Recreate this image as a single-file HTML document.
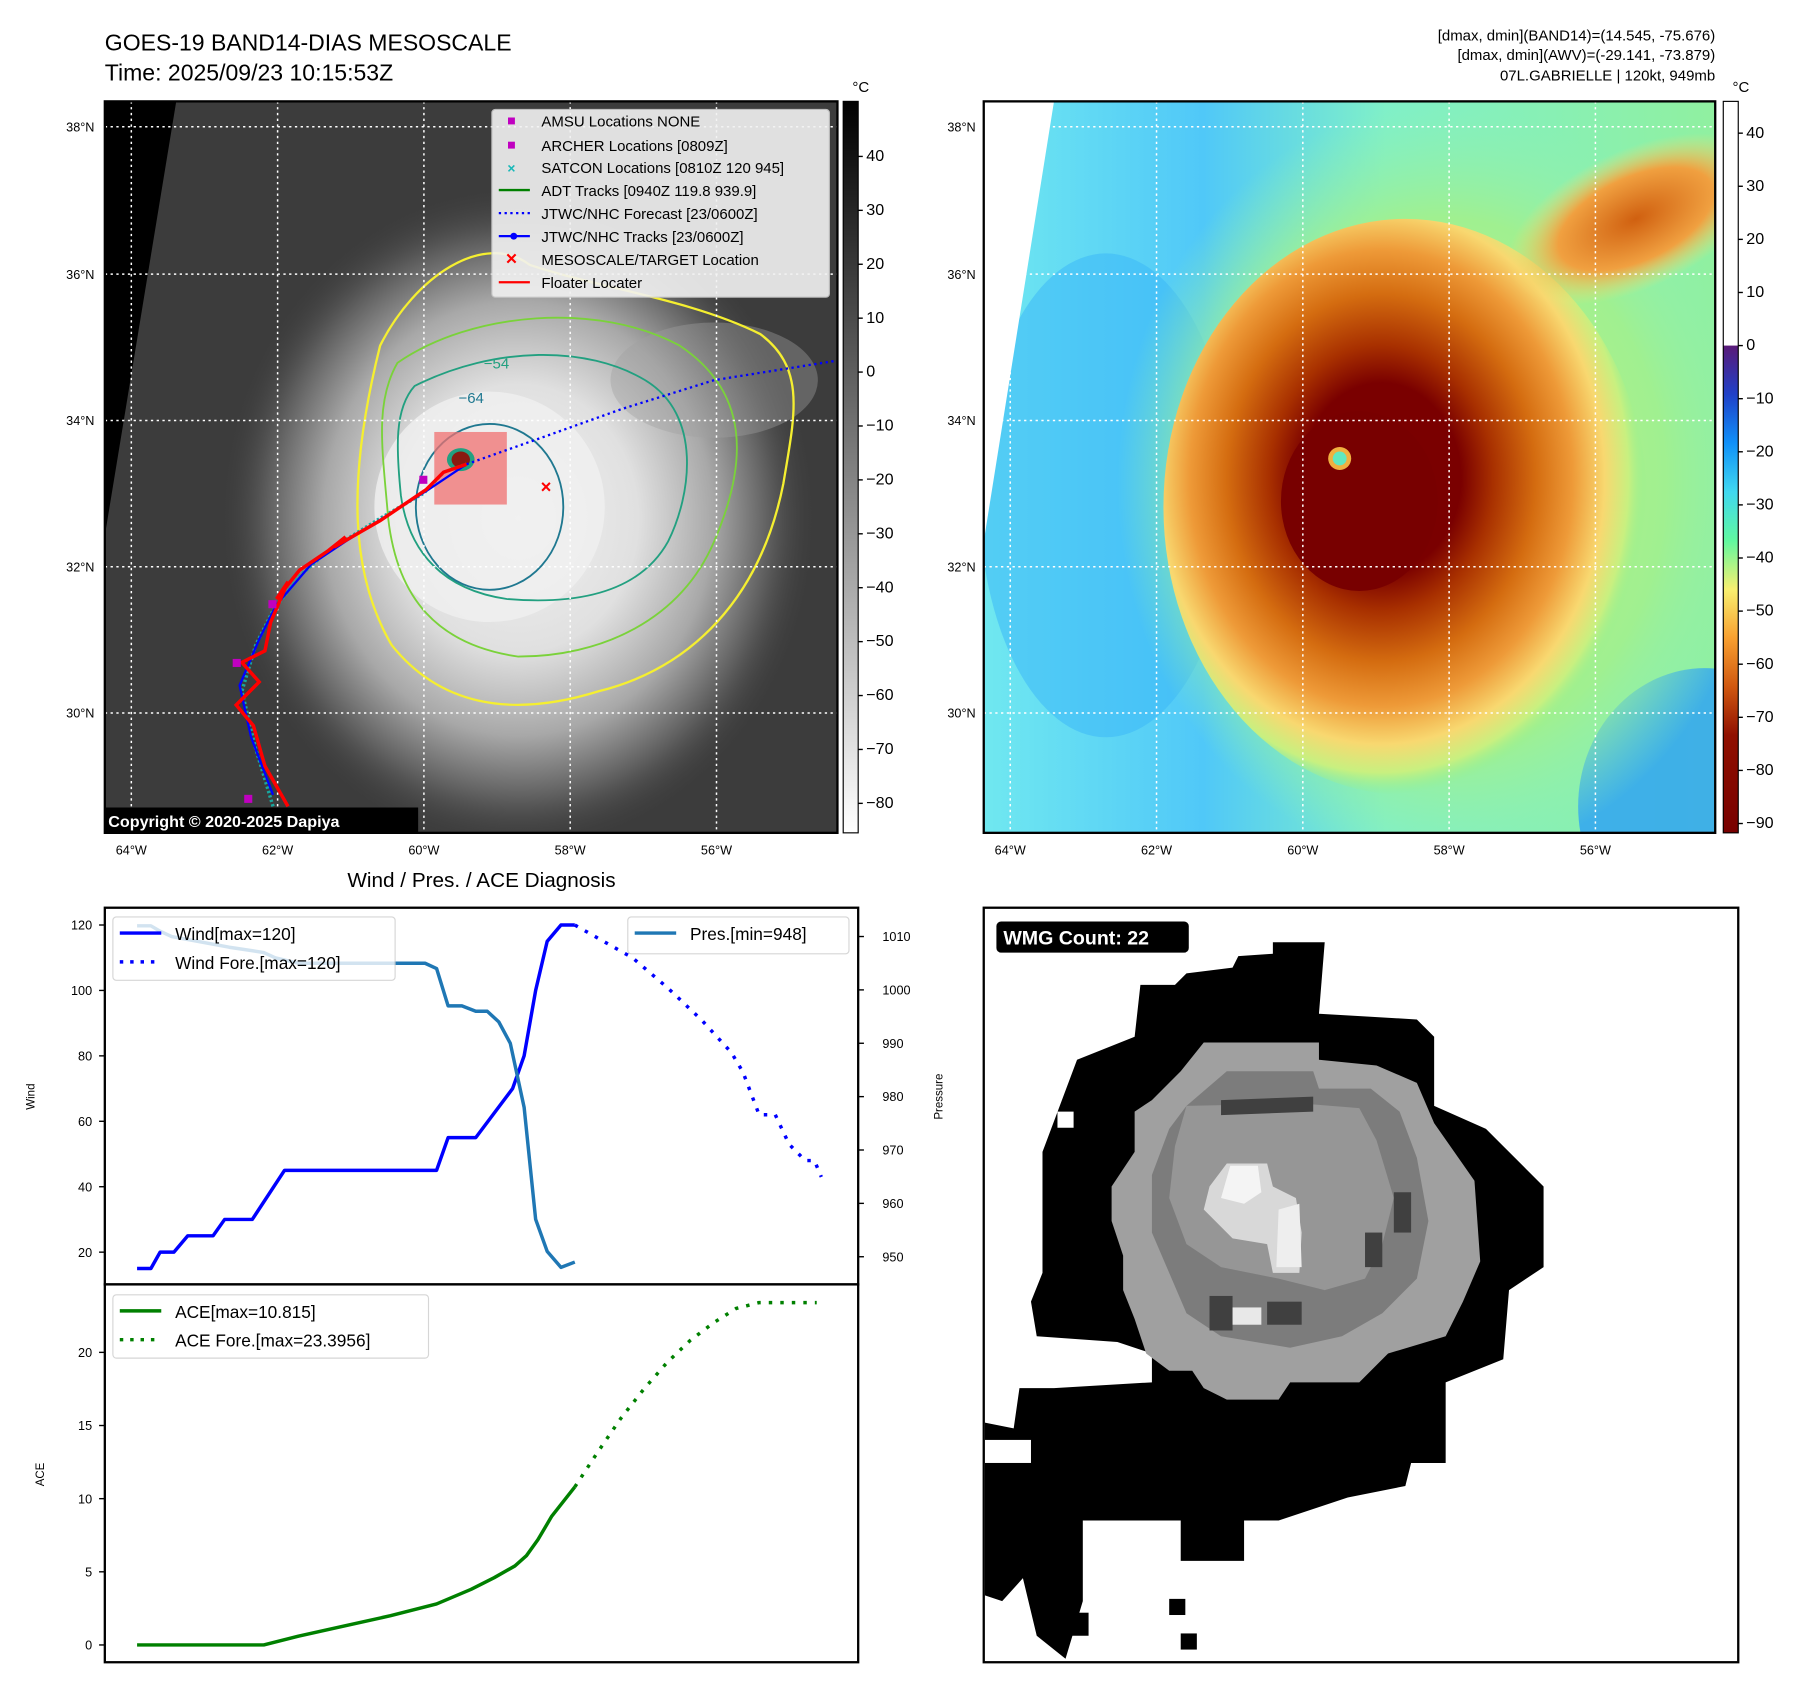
<!DOCTYPE html>
<html><head><meta charset="utf-8">
<style>
html,body{margin:0;padding:0;background:#fff;}
svg{display:block;font-family:"Liberation Sans","DejaVu Sans",sans-serif;}
</style></head>
<body>
<svg id="root" width="1797" height="1690" viewBox="0 0 1560 1467.1" preserveAspectRatio="none" xmlns="http://www.w3.org/2000/svg">
<defs>
  <radialGradient id="cloud" cx="0.5" cy="0.5" r="0.5">
    <stop offset="0" stop-color="#f2f2f2"/>
    <stop offset="0.4" stop-color="#e0e0e0"/>
    <stop offset="0.65" stop-color="#a8a8a8"/>
    <stop offset="0.85" stop-color="#5a5a5a"/>
    <stop offset="1" stop-color="#3c3c3c" stop-opacity="0"/>
  </radialGradient>
  <radialGradient id="core" cx="0.45" cy="0.45" r="0.55">
    <stop offset="0" stop-color="#7a0000"/>
    <stop offset="0.3" stop-color="#7a0000"/>
    <stop offset="0.42" stop-color="#a83000"/>
    <stop offset="0.58" stop-color="#d46c10"/>
    <stop offset="0.72" stop-color="#ee9a38"/>
    <stop offset="0.84" stop-color="#f8d870"/>
    <stop offset="0.93" stop-color="#c8f080"/>
    <stop offset="1" stop-color="#90f090" stop-opacity="0"/>
  </radialGradient>
  <radialGradient id="ne" cx="0.5" cy="0.5" r="0.5">
    <stop offset="0" stop-color="#d06010"/>
    <stop offset="0.6" stop-color="#f0a040"/>
    <stop offset="1" stop-color="#f8e070" stop-opacity="0"/>
  </radialGradient>
  <radialGradient id="halo" cx="0.5" cy="0.5" r="0.5">
    <stop offset="0" stop-color="#c8f080"/>
    <stop offset="0.7" stop-color="#a0f090"/>
    <stop offset="1" stop-color="#90f0b0" stop-opacity="0"/>
  </radialGradient>
  <linearGradient id="cbgray" x1="0" y1="0" x2="0" y2="1">
    <stop offset="0" stop-color="#000"/><stop offset="1" stop-color="#fff"/>
  </linearGradient>
  <linearGradient id="cbcol" x1="0" y1="0" x2="0" y2="1">
    <stop offset="0" stop-color="#5a1a78"/>
    <stop offset="0.1" stop-color="#2040c8"/>
    <stop offset="0.2" stop-color="#1090f8"/>
    <stop offset="0.3" stop-color="#40d8f0"/>
    <stop offset="0.4" stop-color="#60f8a0"/>
    <stop offset="0.5" stop-color="#f8f070"/>
    <stop offset="0.6" stop-color="#f8a030"/>
    <stop offset="0.7" stop-color="#d05810"/>
    <stop offset="0.8" stop-color="#901000"/>
    <stop offset="1" stop-color="#780000"/>
  </linearGradient>
  <linearGradient id="ocean" x1="0" y1="0" x2="1" y2="0">
    <stop offset="0" stop-color="#70e8f0"/>
    <stop offset="0.3" stop-color="#50c8f8"/>
    <stop offset="0.55" stop-color="#80f0c8"/>
    <stop offset="1" stop-color="#90f0a0"/>
  </linearGradient>
  <clipPath id="clipL"><rect x="91" y="88" width="636" height="635"/></clipPath>
  <clipPath id="clipR"><rect x="854" y="88" width="635" height="635"/></clipPath>
  <clipPath id="clipW"><rect x="854" y="788" width="655" height="655"/></clipPath>
</defs>

<text x="91" y="44" font-size="20">GOES-19 BAND14-DIAS MESOSCALE</text>
<text x="91" y="70" font-size="20">Time: 2025/09/23 10:15:53Z</text>
<g font-size="13" text-anchor="end">
<text x="1489" y="35">[dmax, dmin](BAND14)=(14.545, -75.676)</text>
<text x="1489" y="52">[dmax, dmin](AWV)=(-29.141, -73.879)</text>
<text x="1489" y="70">07L.GABRIELLE | 120kt, 949mb</text>
</g>

<!-- LEFT MAP -->
<g clip-path="url(#clipL)">
  <rect x="91" y="88" width="636" height="635" fill="#3c3c3c"/>
  <ellipse cx="450" cy="450" rx="260" ry="290" fill="url(#cloud)"/>
  <ellipse cx="425" cy="440" rx="100" ry="100" fill="#f0f0f0" opacity="0.8"/>
  <ellipse cx="620" cy="330" rx="90" ry="50" fill="#a0a0a0" opacity="0.4"/>
  <polygon points="91,88 153,88 91,465" fill="#000"/>
  <path d="M330,300 C360,240 420,200 460,230 C520,250 600,260 660,290 C700,320 690,360 680,420 C660,520 600,580 520,600 C440,625 380,610 340,560 C305,500 300,420 330,300Z" fill="none" stroke="#f5ef30" stroke-width="2"/>
  <path d="M345,315 C410,270 520,262 590,300 C650,340 650,400 620,470 C590,540 520,570 450,570 C380,560 345,520 337,450 C332,390 325,350 345,315Z" fill="none" stroke="#7ad23a" stroke-width="1.6"/>
  <path d="M360,335 C430,300 510,300 560,330 C610,360 600,430 580,470 C555,515 500,525 440,520 C385,512 355,480 348,430 C344,390 342,355 360,335Z" fill="none" stroke="#22a080" stroke-width="1.6"/>
  <ellipse cx="425" cy="440" rx="64" ry="72" fill="none" stroke="#1f7890" stroke-width="1.6"/>
  <text x="398" y="350" font-size="13" fill="#1f7890">−64</text>
  <text x="420" y="320" font-size="13" fill="#22a080">−54</text>
  <g stroke="#fff" stroke-dasharray="2,3" stroke-width="1.3">
    <line x1="114" y1="88" x2="114" y2="723"/><line x1="241" y1="88" x2="241" y2="723"/><line x1="368" y1="88" x2="368" y2="723"/><line x1="495" y1="88" x2="495" y2="723"/><line x1="622" y1="88" x2="622" y2="723"/>
    <line x1="91" y1="110" x2="727" y2="110"/><line x1="91" y1="238" x2="727" y2="238"/><line x1="91" y1="365" x2="727" y2="365"/><line x1="91" y1="492" x2="727" y2="492"/><line x1="91" y1="619" x2="727" y2="619"/>
  </g>
  <rect x="377" y="375" width="63" height="63" fill="#f07070" opacity="0.75"/>
  <ellipse cx="400" cy="399" rx="12" ry="10" fill="#22a080"/>
  <ellipse cx="400" cy="399" rx="8" ry="7" fill="#8a1a10"/>
  <polyline points="405,403 470,380 540,355 620,330 727,313" fill="none" stroke="#0000ff" stroke-width="2" stroke-dasharray="2,3"/>
  <polyline points="237,700 222,650 210,600 222,560 237,530 260,500 285,478 330,450 368,428 385,410 405,403" fill="none" stroke="#18a8a0" stroke-width="3" stroke-dasharray="2,2"/>
  <polyline points="237,690 218,640 208,595 225,555 240,525 270,490 300,470 340,445 372,425 405,403" fill="none" stroke="#0000ff" stroke-width="2"/>
  <polyline points="250,700 230,665 220,630 205,612 225,592 210,575 230,565 235,540 250,505 240,520 260,495 285,478 300,466 290,475 330,452 370,425 385,410 405,403" fill="none" stroke="#ff0000" stroke-width="3"/>
  <rect x="233" y="521" width="7" height="7" fill="#c000c0"/><rect x="202" y="572" width="7" height="7" fill="#c000c0"/><rect x="212" y="690" width="7" height="7" fill="#c000c0"/><rect x="364" y="413" width="7" height="7" fill="#c000c0"/>
  <text x="474" y="428" font-size="16" fill="#f00" text-anchor="middle" font-weight="bold">×</text>
  <rect x="91" y="701" width="272" height="22" fill="#000"/>
  <text x="94" y="718" font-size="14" fill="#fff" font-weight="bold">Copyright © 2020-2025 Dapiya</text>
</g>
<rect x="91" y="88" width="636" height="635" fill="none" stroke="#000" stroke-width="2"/>
<g>
  <rect x="427" y="95" width="293" height="163" rx="3" fill="#f2f2f2" opacity="0.9" stroke="#ccc"/>
  <g font-size="13">
    <rect x="441" y="102" width="6" height="6" fill="#c000c0"/><text x="470" y="110">AMSU Locations NONE</text>
    <rect x="441" y="123" width="6" height="6" fill="#c000c0"/><text x="470" y="131">ARCHER Locations [0809Z]</text>
    <text x="444" y="150" fill="#18b8b8" font-size="12" text-anchor="middle" font-weight="bold">×</text><text x="470" y="150">SATCON Locations [0810Z 120 945]</text>
    <line x1="433" y1="165" x2="460" y2="165" stroke="#008000" stroke-width="2"/><text x="470" y="170">ADT Tracks [0940Z 119.8 939.9]</text>
    <line x1="433" y1="185" x2="460" y2="185" stroke="#0000ff" stroke-width="2" stroke-dasharray="2,3"/><text x="470" y="190">JTWC/NHC Forecast [23/0600Z]</text>
    <line x1="433" y1="205" x2="460" y2="205" stroke="#0000ff" stroke-width="2"/><circle cx="446" cy="205" r="3" fill="#0000ff"/><text x="470" y="210">JTWC/NHC Tracks [23/0600Z]</text>
    <text x="444" y="230" fill="#f00" font-size="17" text-anchor="middle" font-weight="bold">×</text><text x="470" y="230">MESOSCALE/TARGET Location</text>
    <line x1="433" y1="245" x2="460" y2="245" stroke="#ff0000" stroke-width="2"/><text x="470" y="250">Floater Locater</text>
  </g>
</g>
<g font-size="11">
  <g text-anchor="middle"><text x="114" y="742">64°W</text><text x="241" y="742">62°W</text><text x="368" y="742">60°W</text><text x="495" y="742">58°W</text><text x="622" y="742">56°W</text></g>
  <g text-anchor="end"><text x="82" y="114">38°N</text><text x="82" y="242">36°N</text><text x="82" y="369">34°N</text><text x="82" y="496">32°N</text><text x="82" y="623">30°N</text></g>
</g>
<g>
  <rect x="732" y="88" width="13" height="635" fill="url(#cbgray)" stroke="#000"/>
  <text x="740" y="80" font-size="13">°C</text>
  <g font-size="14" id="cbL"></g>
</g>

<!-- RIGHT MAP -->
<g clip-path="url(#clipR)">
  <rect x="854" y="88" width="635" height="635" fill="url(#ocean)"/>
  <ellipse cx="960" cy="430" rx="110" ry="210" fill="#3cb8f8" opacity="0.55"/>
  <ellipse cx="1480" cy="700" rx="110" ry="120" fill="#2aa0f8" opacity="0.8"/>
  <ellipse cx="1250" cy="420" rx="280" ry="330" fill="url(#halo)"/>
  <ellipse cx="1220" cy="440" rx="210" ry="250" fill="url(#core)"/>
  <ellipse cx="1420" cy="190" rx="120" ry="60" fill="url(#ne)" transform="rotate(-25 1420 190)"/>
  <ellipse cx="1180" cy="435" rx="68" ry="78" fill="#780000"/>
  <circle cx="1163" cy="398" r="10" fill="#f0b040"/>
  <circle cx="1163" cy="398" r="6" fill="#60e8c0"/>
  <polygon points="854,88 915,88 854,470" fill="#fff"/>
  <g stroke="#fff" stroke-dasharray="2,3" stroke-width="1.3">
    <line x1="877" y1="88" x2="877" y2="723"/><line x1="1004" y1="88" x2="1004" y2="723"/><line x1="1131" y1="88" x2="1131" y2="723"/><line x1="1258" y1="88" x2="1258" y2="723"/><line x1="1385" y1="88" x2="1385" y2="723"/>
    <line x1="854" y1="110" x2="1489" y2="110"/><line x1="854" y1="238" x2="1489" y2="238"/><line x1="854" y1="365" x2="1489" y2="365"/><line x1="854" y1="492" x2="1489" y2="492"/><line x1="854" y1="619" x2="1489" y2="619"/>
  </g>
</g>
<rect x="854" y="88" width="635" height="635" fill="none" stroke="#000" stroke-width="2"/>
<g font-size="11">
  <g text-anchor="middle"><text x="877" y="742">64°W</text><text x="1004" y="742">62°W</text><text x="1131" y="742">60°W</text><text x="1258" y="742">58°W</text><text x="1385" y="742">56°W</text></g>
  <g text-anchor="end"><text x="847" y="114">38°N</text><text x="847" y="242">36°N</text><text x="847" y="369">34°N</text><text x="847" y="496">32°N</text><text x="847" y="623">30°N</text></g>
</g>
<g>
  <rect x="1496" y="88" width="13" height="212" fill="#fff"/>
  <rect x="1496" y="300" width="13" height="423" fill="url(#cbcol)"/>
  <rect x="1496" y="88" width="13" height="635" fill="none" stroke="#000"/>
  <text x="1504" y="80" font-size="13">°C</text>
  <g font-size="14" id="cbR"></g>
</g>

<!-- BOTTOM LEFT CHART -->
<text x="418" y="770" font-size="18" text-anchor="middle">Wind / Pres. / ACE Diagnosis</text>
<g id="chart">
  <rect x="91" y="788" width="654" height="327" fill="#fff" stroke="#000" stroke-width="2"/>
  <rect x="91" y="1115" width="654" height="328" fill="#fff" stroke="#000" stroke-width="2"/>
  <text transform="translate(30 952) rotate(-90)" font-size="10" text-anchor="middle">Wind</text>
  <text transform="translate(818 952) rotate(-90)" font-size="10" text-anchor="middle">Pressure</text>
  <text transform="translate(38 1280) rotate(-90)" font-size="10" text-anchor="middle">ACE</text>
  <g id="ticks" font-size="11"></g>
  <g id="series"></g>
  <g>
    <rect x="98" y="796" width="245" height="55" rx="3" fill="#fff" opacity="0.8" stroke="#ccc"/>
    <line x1="104" y1="810" x2="140" y2="810" stroke="#0000ff" stroke-width="3"/><text x="152" y="816" font-size="15">Wind[max=120]</text>
    <line x1="104" y1="835" x2="140" y2="835" stroke="#0000ff" stroke-width="3" stroke-dasharray="3,6"/><text x="152" y="841" font-size="15">Wind Fore.[max=120]</text>
  </g>
  <g>
    <rect x="545" y="796" width="192" height="32" rx="3" fill="#fff" opacity="0.8" stroke="#ccc"/>
    <line x1="551" y1="810" x2="587" y2="810" stroke="#1f77b4" stroke-width="3"/><text x="599" y="816" font-size="15">Pres.[min=948]</text>
  </g>
  <g>
    <rect x="98" y="1124" width="274" height="55" rx="3" fill="#fff" opacity="0.8" stroke="#ccc"/>
    <line x1="104" y1="1138" x2="140" y2="1138" stroke="#008000" stroke-width="3"/><text x="152" y="1144" font-size="15">ACE[max=10.815]</text>
    <line x1="104" y1="1163" x2="140" y2="1163" stroke="#008000" stroke-width="3" stroke-dasharray="3,6"/><text x="152" y="1169" font-size="15">ACE Fore.[max=23.3956]</text>
  </g>
</g>

<!-- WMG PANEL -->
<g clip-path="url(#clipW)">
  <rect x="854" y="788" width="655" height="655" fill="#fff"/>
  <polygon points="1105,818 1150,818 1145,880 1230,885 1245,900 1245,960 1290,980 1325,1015 1340,1030 1340,1100 1310,1120 1305,1180 1255,1200 1255,1270 1225,1270 1220,1290 1170,1300 1110,1320 1080,1320 1080,1355 1025,1355 1025,1320 940,1320 940,1390 925,1440 900,1420 888,1370 870,1390 855,1385 855,1235 880,1240 885,1205 915,1205 1000,1200 1000,1175 970,1165 900,1160 895,1130 905,1105 905,1000 935,920 985,900 990,855 1020,855 1030,845 1070,840 1075,830 1105,828" fill="#000"/>
  <rect x="918" y="965" width="14" height="14" fill="#fff"/><rect x="855" y="1250" width="40" height="20" fill="#fff"/>
  <rect x="905" y="1400" width="40" height="20" fill="#000"/><rect x="1015" y="1388" width="14" height="14" fill="#000"/><rect x="1025" y="1418" width="14" height="14" fill="#000"/>
  <polygon points="1045,905 1145,905 1145,920 1195,925 1230,940 1245,975 1280,1025 1285,1095 1270,1130 1255,1160 1205,1175 1180,1200 1120,1200 1110,1215 1065,1215 1045,1205 1035,1190 1015,1190 995,1175 985,1145 975,1120 975,1090 965,1060 965,1030 985,1000 985,965 1000,955 1025,930" fill="#a0a0a0"/>
  <polygon points="1065,930 1140,930 1145,945 1190,945 1215,965 1230,1005 1240,1060 1230,1110 1200,1140 1165,1160 1120,1170 1060,1160 1030,1140 1015,1105 1000,1070 1000,1020 1015,980 1030,960" fill="#7c7c7c"/>
  <polygon points="1030,960 1130,958 1180,962 1195,990 1210,1040 1200,1080 1185,1110 1150,1120 1110,1110 1060,1100 1030,1080 1015,1040 1020,995" fill="#969696"/>
  <polygon points="1060,955 1140,952 1140,965 1060,968" fill="#404040"/>
  <polygon points="1065,1010 1100,1010 1105,1030 1125,1040 1130,1070 1128,1105 1105,1105 1100,1080 1070,1075 1045,1050 1050,1030" fill="#d8d8d8"/>
  <polygon points="1068,1012 1092,1012 1095,1035 1080,1045 1060,1040" fill="#f4f4f4"/>
  <polygon points="1110,1050 1128,1045 1130,1100 1108,1100" fill="#eeeeee"/>
  <rect x="1050" y="1125" width="20" height="30" fill="#404040"/><rect x="1070" y="1135" width="25" height="15" fill="#e8e8e8"/><rect x="1100" y="1130" width="30" height="20" fill="#404040"/>
  <rect x="1210" y="1035" width="15" height="35" fill="#404040"/><rect x="1185" y="1070" width="15" height="30" fill="#404040"/>
  <rect x="865" y="800" width="167" height="27" rx="4" fill="#000"/>
  <text x="871" y="820" font-size="17" font-weight="bold" fill="#fff">WMG Count: 22</text>
</g>
<rect x="854" y="788" width="655" height="655" fill="none" stroke="#000" stroke-width="2"/>
</svg>

<script>
const windHours = [0,6,10,16,22,33,38,50,64,130,135,147,163,168,173,178,184,190];
const windValues = [15,15,20,20,25,25,30,30,45,45,55,55,70,80,100,115,120,120];
const windForeHours = [190,200,215,230,245,258,263,270,277,283,290,294,297];
const windForeValues = [120,116,110,101,91,81,75,62,62,53,48,48,43];
const presHours = [0,6,10,15,40,55,60,70,75,125,130,135,141,147,152,157,162,168,173,178,184,190];
const presValues = [1012,1012,1011,1010,1008,1007,1006,1005,1005,1005,1004,997,997,996,996,994,990,978,957,951,948,949];
const aceHours = [0,55,70,90,110,130,145,155,164,169,174,180,190];
const aceValues = [0,0,0.6,1.3,2.0,2.8,3.8,4.6,5.4,6.1,7.2,8.8,10.8];
const aceForeHours = [190,200,210,220,230,240,250,260,270,280,295];
const aceForeValues = [10.8,13.2,15.5,17.5,19.3,20.8,22,23,23.4,23.4,23.4];
const windTicks = [20,40,60,80,100,120];
const presTicks = [950,960,970,980,990,1000,1010];
const aceTicks = [0,5,10,15,20];
const cbLeftTicks = [40,30,20,10,0,-10,-20,-30,-40,-50,-60,-70,-80];
const cbRightTicks = [40,30,20,10,0,-10,-20,-30,-40,-50,-60,-70,-80,-90];

const NS = "http://www.w3.org/2000/svg";
const xS = h => 119 + h * 2;
const yWind = v => 1087 - (v - 20) * 2.84;
const yPres = p => 813 + (1010 - p) * 4.633;
const yAce = a => 1428 - a * 12.7;
const yCbL = t => 323 - t * 4.68;
const yCbR = t => 300 - t * 4.61;

function mk(tag, attrs, parent) {
  const e = document.createElementNS(NS, tag);
  for (const k in attrs) e.setAttribute(k, attrs[k]);
  parent.appendChild(e);
  return e;
}
const series = document.getElementById('series');
const ticks = document.getElementById('ticks');

function line(xs, ys, yf, color, dash, name) {
  const pts = xs.map((h, i) => xS(h).toFixed(1) + ',' + yf(ys[i]).toFixed(1)).join(' ');
  const el = mk('polyline', {points: pts, fill: 'none', stroke: color, 'stroke-width': 3, 'stroke-linejoin': 'round'}, series);
  if (dash) el.setAttribute('stroke-dasharray', dash);
  
  
}
line(windHours, windValues, yWind, '#0000ff', null, 'wind-line');
line(windForeHours, windForeValues, yWind, '#0000ff', '3,7', 'wind-forecast-line');
line(presHours, presValues, yPres, '#1f77b4', null, 'pressure-line');
line(aceHours, aceValues, yAce, '#008000', null, 'ace-line');
line(aceForeHours, aceForeValues, yAce, '#008000', '3,7', 'ace-forecast-line');

function tick(x1, x2, y, label, anchor, tx, parent, fs) {
  mk('line', {x1: x1, x2: x2, y1: y, y2: y, stroke: '#000', 'stroke-width': 1.2}, parent);
  const t = mk('text', {x: tx, y: y + 4, 'text-anchor': anchor, 'font-size': fs}, parent);
  t.textContent = label;
  
  
}
windTicks.forEach(v => tick(86, 91, yWind(v), v, 'end', 80, ticks, 11));
presTicks.forEach(p => tick(745, 750, yPres(p), p, 'start', 766, ticks, 11));
aceTicks.forEach(a => tick(86, 91, yAce(a), a, 'end', 80, ticks, 11));
const cbL = document.getElementById('cbL');
cbLeftTicks.forEach(t => tick(745, 749, yCbL(t), String(t).replace('-', '−'), 'start', 752, cbL, 14));
const cbR = document.getElementById('cbR');
cbRightTicks.forEach(t => tick(1509, 1513, yCbR(t), String(t).replace('-', '−'), 'start', 1516, cbR, 14));
</script>
</body></html>
